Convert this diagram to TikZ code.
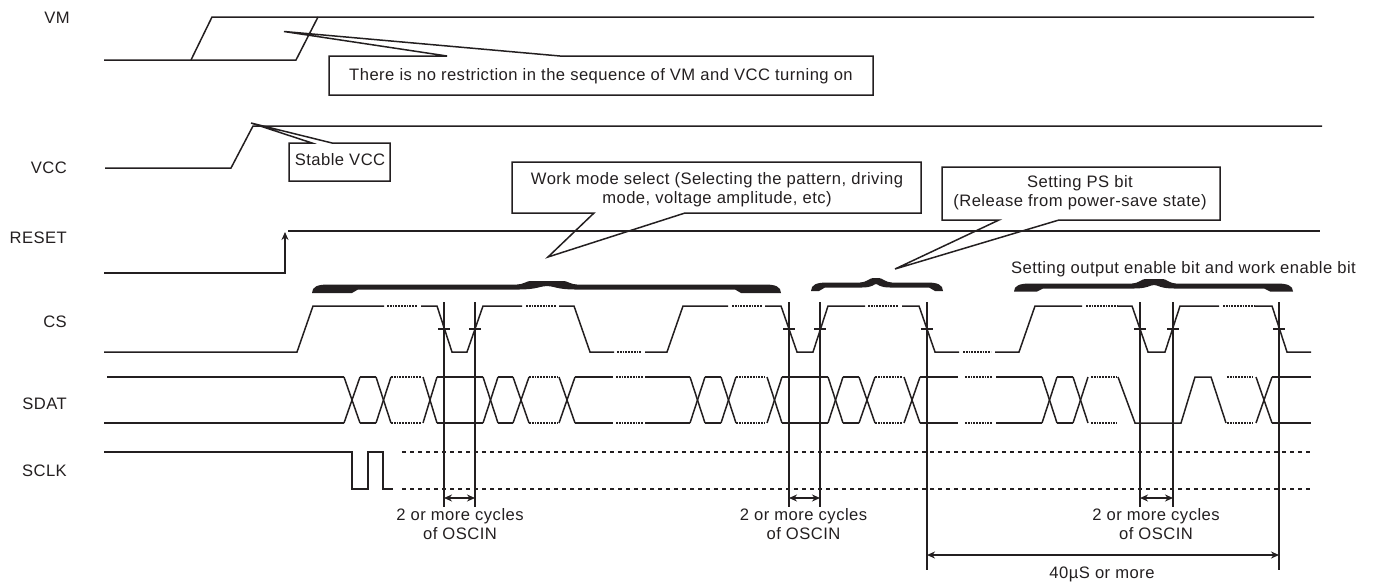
\documentclass[tikz,border=0pt]{standalone}
\usepackage{fontspec}
\setmainfont[LetterSpace=2.8]{Liberation Sans}
\usetikzlibrary{arrows.meta}
\definecolor{ink}{HTML}{231F20}
\tikzset{
  wire/.style={draw=ink,line width=1.5pt,line join=miter},
  dots/.style={draw=ink,line width=1.2pt,dash pattern=on 1.8pt off 1pt},
  dashes/.style={draw=ink,line width=1.3pt,dash pattern=on 4pt off 4pt},
  guide/.style={draw=ink,line width=1.5pt},
  dim/.style={draw=ink,line width=1.5pt,{Stealth[length=8pt,width=7pt]}-{Stealth[length=8pt,width=7pt]}},
  call/.style={draw=ink,line width=1.5pt,line join=miter},
  txt/.style={text=ink,inner sep=0pt,align=center,font=\fontsize{16.6}{19}\selectfont},
  lbl/.style={text=ink,inner sep=0pt,anchor=base east,font=\fontsize{16.6}{19}\selectfont},
  bracefill/.style={fill=ink,draw=none}
}
% #1 left, #2 right, #3 centre, #4 peak top, #5 body top, #6 body bottom, #7 foot bottom, #8 foot length, #9 shoulder half-width
\newcommand{\curlybrace}[9]{
  \fill[bracefill] (#1,#7) .. controls (#1,{#5+2}) and ({#1+6},#5) .. ({#1+16},#5)
    -- ({#3-#9-10},#5) .. controls ({#3-#9-4},#5) and ({#3-#9},#4) .. ({#3-#9+3},#4)
    -- ({#3+#9-3},#4) .. controls ({#3+#9},#4) and ({#3+#9+4},#5) .. ({#3+#9+10},#5)
    -- ({#2-16},#5) .. controls ({#2-6},#5) and (#2,{#5+2}) .. (#2,#7)
    -- ({#2-#8},#7) -- ({#2-#8-6},#6) -- ({#3+#9+8},#6)
    .. controls ({#3+#9/2},#6) and ({#3+#9/3},{#5+1.5}) .. (#3,{#5+1.5})
    .. controls ({#3-#9/3},{#5+1.5}) and ({#3-#9/2},#6) .. ({#3-#9-8},#6)
    -- ({#1+#8+6},#6) -- ({#1+#8},#7) -- cycle;
}
\begin{document}
\begin{tikzpicture}[x=1pt,y=-1pt]
\useasboundingbox (0,0) rectangle (1378,582);
% signal labels
\node[lbl] (lvm) at (70,23) {VM};
\node[lbl] (lvcc) at (67,173) {VCC};
\node[lbl] (lreset) at (67,243) {RESET};
\node[lbl] (lcs) at (67,327) {CS};
\node[lbl] (lsdat) at (67,409) {SDAT};
\node[lbl] (lsclk) at (67,476) {SCLK};
% VM
\draw[wire] (104,60) -- (191,60) -- (212,17) -- (1314,17);
\draw[wire] (191,60) -- (296,60) -- (318,17);
% VCC
\draw[wire] (105,168) -- (231,168) -- (253,126) -- (1322,126);
% RESET
\draw[wire,-{Stealth[length=8pt,width=7pt]}] (104,273) -- (285,273) -- (285,232);
\draw[wire] (288,231) -- (1320,231);
% CS
\draw[wire] (104,352) -- (297,352) -- (313,306) -- (384,306);
\draw[wire] (421,306) -- (437,306) -- (452,352) -- (467,352) -- (483,306) -- (522,306);
\draw[wire] (559,306) -- (574,306) -- (590,352) -- (614,352);
\draw[wire] (645,352) -- (667,352) -- (683,306) -- (728,306);
\draw[wire] (765,306) -- (781,306) -- (797,352) -- (813,352) -- (828,306) -- (865,306);
\draw[wire] (902,306) -- (919,306) -- (935,352) -- (959,352);
\draw[wire] (995,352) -- (1019,352) -- (1035,306) -- (1082,306);
\draw[wire] (1118,306) -- (1132,306) -- (1148,352) -- (1165,352) -- (1180,306) -- (1219,306);
\draw[wire] (1255,306) -- (1272,306) -- (1287,352) -- (1311,352);
\foreach \a/\b in {387/417,526/556,732/762,868/898,1086/1117,1223/1255}
  \draw[dots] (\a,306) -- (\b,306);
\foreach \a/\b in {617/642,963/991}
  \draw[dots] (\a,352) -- (\b,352);
% CS ticks
\foreach \c in {444,475,789,820,927,1140,1173,1279}
  \draw[wire] ({\c-6},329) -- ({\c+6},329);
% SDAT
\draw[wire] (107,377) -- (344,377);
\draw[wire] (104,423) -- (344,423);
\foreach \a/\b in {360/376,437/483,498/513,575/613,645/690,705/721,782/828,843/859,920/958,996/1042,1057/1073,1272/1311}{
  \draw[wire] (\a,377) -- (\b,377);
  \draw[wire] (\a,423) -- (\b,423);
}
\foreach \a/\b in {344/360,376/391,423/437,483/498,513/529,559/575,690/705,721/736,767/782,828/843,859/875,904/920,1042/1057,1073/1088,1256/1272}{
  \draw[wire] (\a,377) -- (\b,423);
  \draw[wire] (\a,423) -- (\b,377);
}
\foreach \a/\b in {391/421,529/558,616/643,736/765,875/902,965/992,1091/1117,1227/1253}{
  \draw[dots] (\a,377) -- (\b,377);
  \draw[dots] (\a,423) -- (\b,423);
}
\draw[wire] (1118,377) -- (1135,423) -- (1181,423) -- (1195,377) -- (1211,377) -- (1226,423);
% SCLK
\draw[wire] (104,452) -- (352,452) -- (352,489) -- (368,489) -- (368,452) -- (383,452) -- (383,489) -- (393,489);
\draw[dashes] (402,452) -- (1311,452);
\draw[dashes] (402,489) -- (1311,489);
% vertical guides
\foreach \c in {444,475,789,820,1140,1173}
  \draw[guide] (\c,302) -- (\c,507);
\foreach \c in {927,1279}
  \draw[guide] (\c,302) -- (\c,570);
% named ends of the dimension arrows
\coordinate (d1a) at (444,498); \coordinate (d1b) at (475,498);
\coordinate (d2a) at (789,498); \coordinate (d2b) at (820,498);
\coordinate (d3a) at (1140,498); \coordinate (d3b) at (1173,498);
\coordinate (d4a) at (927,555); \coordinate (d4b) at (1279,555);
\draw[dim] (d1a) -- (d1b);
\draw[dim] (d2a) -- (d2b);
\draw[dim] (d3a) -- (d3b);
\draw[dim] (d4a) -- (d4b);
% dimension labels
\node[txt] (t1) at (460,524.5) {2 or more cycles\\of OSCIN};
\node[txt] (t2) at (803.5,524.5) {2 or more cycles\\of OSCIN};
\node[txt] (t3) at (1156,524.5) {2 or more cycles\\of OSCIN};
\node[txt] (t4) at (1102,574) {40µS or more};
% callouts
\draw[call] (329,56) -- (447,56) -- (284,31.5) -- (560,56) -- (873,56) -- (873,95) -- (329,95) -- cycle;
\node[txt] (c1) at (601,76) {There is no restriction in the sequence of VM and VCC turning on};
\draw[call] (289,143) -- (312,143) -- (251,123) -- (332,143) -- (390,143) -- (390,181) -- (289,181) -- cycle;
\node[txt] (c2) at (340,160) {Stable VCC};
\draw[call] (512,162) -- (921,162) -- (921,213) -- (685,213) -- (548,257) -- (594,213) -- (512,213) -- cycle;
\node[txt] (c3) at (717,189.5) {Work mode select (Selecting the pattern, driving\\mode, voltage amplitude, etc)};
\draw[call] (942,167) -- (1220,167) -- (1220,220) -- (1059,220) -- (895,269) -- (999,220) -- (942,220) -- cycle;
\node[txt] (c4) at (1080,192.5) {Setting PS bit\\(Release from power-save state)};
\node[txt] (c5) at (1183.5,269) {Setting output enable bit and work enable bit};
% braces
\curlybrace{312}{781}{547}{281}{284.5}{289.5}{293}{40}{20}
\curlybrace{811}{943}{876}{278}{282.5}{287.5}{291}{8}{6}
\curlybrace{1014}{1293}{1154}{279}{283.5}{288.5}{291.5}{23}{12}
\end{tikzpicture}
\end{document}
